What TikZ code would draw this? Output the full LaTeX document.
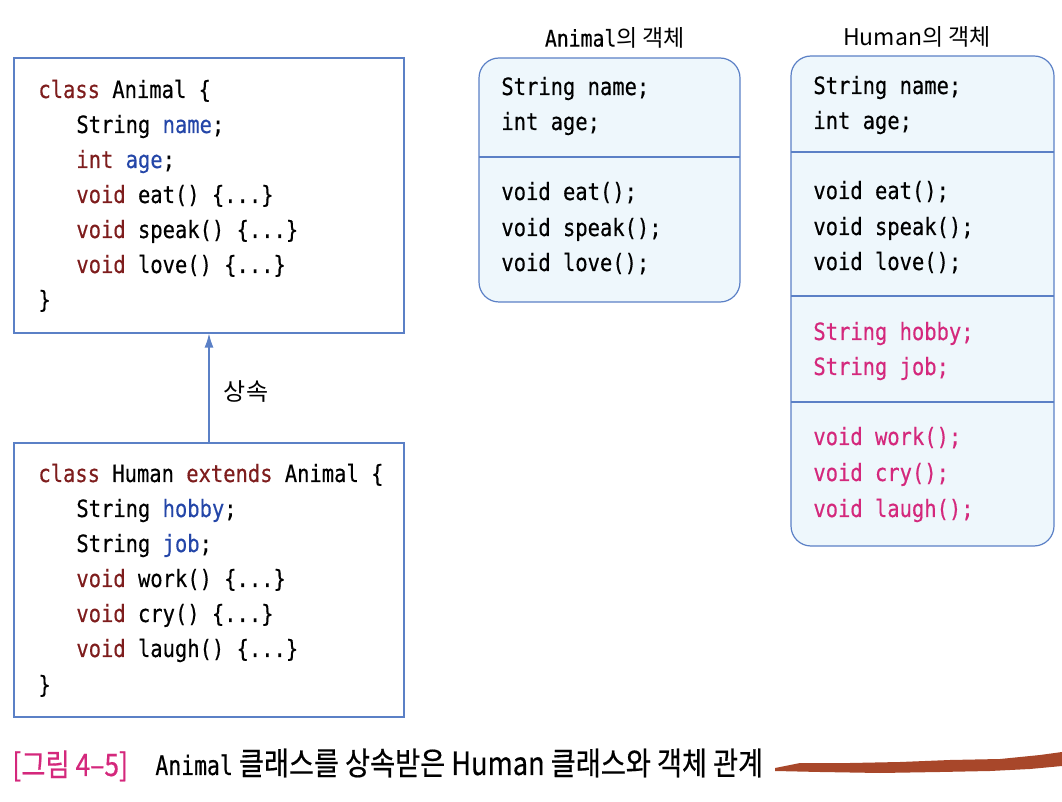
\documentclass[tikz,border=0pt]{standalone}
\usepackage{fontspec}
\usetikzlibrary{arrows.meta}
\setmainfont{Noto Sans CJK KR}
\setsansfont{Noto Sans CJK KR}
\setmonofont[FakeStretch=0.86,FakeBold=0.4]{DejaVu Sans Mono}
\newfontfamily\capfont[FakeStretch=0.85,FakeBold=0.5]{Noto Sans CJK KR}
\newfontfamily\capmono[FakeStretch=0.8,FakeBold=0.4]{DejaVu Sans Mono}

\definecolor{boxblue}{HTML}{5B80C6}
\definecolor{objfill}{HTML}{EEF7FC}
\definecolor{kwred}{HTML}{7E1D1D}
\definecolor{idblue}{HTML}{2446A8}
\definecolor{newpink}{HTML}{D4287C}
\definecolor{brush}{HTML}{A8472A}

\newcommand{\codefont}{\fontsize{11.9}{13}\selectfont\ttfamily}
\newcommand{\kw}[1]{\textcolor{kwred}{#1}}
\newcommand{\fld}[1]{\textcolor{idblue}{#1}}

\tikzset{
  code/.style={anchor=base west, inner sep=0pt, font=\codefont},
  newcode/.style={code, text=newpink},
  classbox/.style={draw=boxblue, line width=0.6pt, inner sep=0pt},
  objbox/.style={draw=boxblue, fill=objfill, line width=0.6pt, rounded corners=10pt, inner sep=0pt},
  divider/.style={draw=boxblue, line width=0.6pt},
  title/.style={font=\fontsize{11.5}{13}\selectfont},
}

\begin{document}
\begin{tikzpicture}[x=0.5pt,y=-0.5pt,>={Latex[length=7pt,width=4.5pt]}]
\useasboundingbox (0,0) rectangle (1062,802);

% Animal class
\node[classbox, minimum width=195pt, minimum height=137.5pt] (acls) at (209,195.5) {};
\node[code] (a1) at (38,98) {\kw{class} Animal \{};
\node[code] (a2) at (76,133) {String \fld{name};};
\node[code] (a3) at (76,168) {\kw{int} \fld{age};};
\node[code] (a4) at (76,203) {\kw{void} eat() \{...\}};
\node[code] (a5) at (76,238) {\kw{void} speak() \{...\}};
\node[code] (a6) at (76,273) {\kw{void} love() \{...\}};
\node[code] (a7) at (38,308) {\}};

% Human class
\node[classbox, minimum width=195pt, minimum height=137pt] (hcls) at (209,580) {};
\node[code] (h1) at (38,482) {\kw{class} Human \kw{extends} Animal \{};
\node[code] (h2) at (76,517) {String \fld{hobby};};
\node[code] (h3) at (76,552) {String \fld{job};};
\node[code] (h4) at (76,587) {\kw{void} work() \{...\}};
\node[code] (h5) at (76,622) {\kw{void} cry() \{...\}};
\node[code] (h6) at (76,657) {\kw{void} laugh() \{...\}};
\node[code] (h7) at (38,693) {\}};

% Inheritance arrow
\draw[->, boxblue, line width=0.6pt] (hcls.north) -- (acls.south);
\node[font=\fontsize{12}{14}\selectfont] (inh) at (246,392) {상속};

% Animal object
\node[title] (atitle) at (615,38) {{\ttfamily Animal}의 객체};
\node[objbox, minimum width=130.5pt, minimum height=122pt] (aobj) at (609.5,180) {};
\draw[divider] (479,157) -- (740,157);
\node[code] (ao1) at (501,95) {String name;};
\node[code] (ao2) at (501,130) {int age;};
\node[code] (ao3) at (501,200) {void eat();};
\node[code] (ao4) at (501,236) {void speak();};
\node[code] (ao5) at (501,271) {void love();};

% Human object
\node[title] (htitle) at (917,37) {Human의 객체};
\node[objbox, minimum width=131.5pt, minimum height=245pt] (hobj) at (922.5,301) {};
\draw[divider] (791,152) -- (1054,152);
\draw[divider] (791,296) -- (1054,296);
\draw[divider] (791,402) -- (1054,402);
\node[code] (ho1) at (813,94) {String name;};
\node[code] (ho2) at (813,129) {int age;};
\node[code] (ho3) at (813,199) {void eat();};
\node[code] (ho4) at (813,235) {void speak();};
\node[code] (ho5) at (813,270) {void love();};
\node[newcode] (ho6) at (813,340) {String hobby;};
\node[newcode] (ho7) at (813,375) {String job;};
\node[newcode] (ho8) at (813,445) {void work();};
\node[newcode] (ho9) at (813,481) {void cry();};
\node[newcode] (ho10) at (813,517) {void laugh();};

% Caption
\node[anchor=base west, inner sep=0pt, text=newpink, font=\capfont\fontsize{15.5}{17}\selectfont] (capnum) at (12,776) {[그림 4–5]};
\node[anchor=base west, inner sep=0pt, font=\capfont\fontsize{16}{18}\selectfont] (captext) at (155,775)
  {{\capmono\fontsize{13.4}{15}\selectfont Animal} 클래스를 상속받은 Human 클래스와 객체 관계};
\fill[brush] (775,768) -- (800,763) -- (850,763) -- (900,762) -- (950,760) -- (1000,759) -- (1040,755) -- (1062,752)
  -- (1062,766) -- (1030,769) -- (990,771) -- (940,772) -- (880,773) -- (820,772) -- (775,771) -- cycle;

\end{tikzpicture}
\end{document}
